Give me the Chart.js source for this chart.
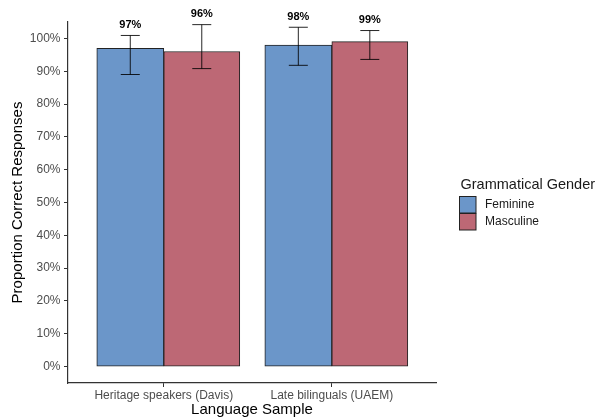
<!DOCTYPE html>
<html>
<head>
<meta charset="utf-8">
<script src="https://cdn.jsdelivr.net/npm/chart.js@4/dist/chart.umd.min.js"></script>
<style>
  html, body { margin: 0; padding: 0; background: #ffffff; }
  #wrap { width: 600px; height: 417px; }
</style>
</head>
<body>
<div id="wrap"><canvas id="c" width="600" height="417"></canvas></div>
<script>
// Language samples on the x axis
const categories = ['Heritage speakers (Davis)', 'Late bilinguals (UAEM)'];
// Mean proportion correct (%) per grammatical gender
const feminine = [97, 98];
const masculine = [96, 99];
// Error-bar bounds (%)
const feminineLow = [89.0, 91.8];
const feminineHigh = [100.9, 103.4];
const masculineLow = [90.8, 93.6];
const masculineHigh = [104.2, 102.4];
// Y tick values (%)
const yTicks = [0, 10, 20, 30, 40, 50, 60, 70, 80, 90, 100];

const FONT = "'Liberation Sans', Arial, sans-serif";
const FEM_COLOR = '#6b96c9';
const MASC_COLOR = '#bd6875';

const toPoints = vals => vals.map((v, i) => ({ x: i + 1, y: v }));

// Error bars with caps, plus bold value labels above each bar
const errorBars = {
  id: 'errorBars',
  afterDatasetsDraw(chart) {
    const ctx = chart.ctx;
    const y = chart.scales.y;
    chart.data.datasets.forEach((ds, di) => {
      const meta = chart.getDatasetMeta(di);
      meta.data.forEach((bar, i) => {
        const x = bar.x;
        const yLo = y.getPixelForValue(ds.errLow[i]);
        const yHi = y.getPixelForValue(ds.errHigh[i]);
        ctx.save();
        ctx.strokeStyle = 'rgba(0,0,0,0.85)';
        ctx.lineWidth = 1;
        ctx.beginPath();
        ctx.moveTo(x, yLo); ctx.lineTo(x, yHi);
        ctx.moveTo(x - 9.5, yLo); ctx.lineTo(x + 9.5, yLo);
        ctx.moveTo(x - 9.5, yHi); ctx.lineTo(x + 9.5, yHi);
        ctx.stroke();
        ctx.fillStyle = '#000000';
        ctx.font = 'bold 11px ' + FONT;
        ctx.textAlign = 'center';
        ctx.textBaseline = 'middle';
        ctx.fillText(ds.data[i].y + '%', x, yHi - 10.5);
        ctx.restore();
      });
    });
  }
};

// Legend block on the right
const sideLegend = {
  id: 'sideLegend',
  afterDraw(chart) {
    const ctx = chart.ctx;
    ctx.save();
    ctx.fillStyle = '#1a1a1a';
    ctx.font = '14.5px ' + FONT;
    ctx.textAlign = 'left';
    ctx.textBaseline = 'alphabetic';
    ctx.fillText('Grammatical Gender', 460.5, 188.5);
    chart.data.datasets.forEach((ds, i) => {
      const top = 196 + i * 17;
      ctx.fillStyle = ds.backgroundColor;
      ctx.fillRect(459.5, top + 0.5, 16.5, 16.5);
      ctx.strokeStyle = '#222222';
      ctx.lineWidth = 1;
      ctx.strokeRect(459.5, top + 0.5, 16.5, 16.5);
      ctx.fillStyle = '#1a1a1a';
      ctx.font = '12px ' + FONT;
      ctx.textBaseline = 'middle';
      ctx.fillText(ds.label, 485, top + 8.5);
    });
    ctx.restore();
  }
};

new Chart(document.getElementById('c'), {
  type: 'bar',
  data: {
    datasets: [
      {
        label: 'Feminine',
        data: toPoints(feminine),
        errLow: feminineLow,
        errHigh: feminineHigh,
        backgroundColor: FEM_COLOR,
        borderColor: '#222222',
        borderWidth: 1,
        borderSkipped: false,
        barThickness: 67
      },
      {
        label: 'Masculine',
        data: toPoints(masculine),
        errLow: masculineLow,
        errHigh: masculineHigh,
        backgroundColor: MASC_COLOR,
        borderColor: '#222222',
        borderWidth: 1,
        borderSkipped: false,
        barThickness: 76
      }
    ]
  },
  options: {
    responsive: false,
    animation: false,
    layout: { padding: { top: 22, right: 164, left: 0, bottom: 0 } },
    plugins: {
      legend: { display: false },
      tooltip: { enabled: false }
    },
    scales: {
      x: {
        type: 'linear',
        min: 0.43,
        max: 2.62,
        offset: false,
        afterBuildTicks: s => { s.ticks = categories.map((c, i) => ({ value: i + 1 })); },
        afterFit: s => { s.height = 34; },
        grid: { display: true, offset: false, drawOnChartArea: false, drawTicks: true, tickLength: 4, color: '#333333' },
        border: { display: true, color: '#333333', width: 1.2 },
        ticks: {
          padding: 1,
          color: '#4d4d4d',
          font: { family: FONT, size: 12 },
          maxRotation: 0,
          autoSkip: false,
          callback: v => categories[v - 1]
        },
        title: {
          display: true,
          text: 'Language Sample',
          color: '#000000',
          font: { family: FONT, size: 15 },
          padding: { top: 0, bottom: -1.5 }
        }
      },
      y: {
        min: -5,
        max: 105,
        afterBuildTicks: s => { s.ticks = yTicks.map(v => ({ value: v })); },
        afterFit: s => { s.width = 68; },
        grid: { display: true, drawOnChartArea: false, drawTicks: true, tickLength: 4, color: '#333333' },
        border: { display: true, color: '#333333', width: 1.2 },
        ticks: {
          padding: 3.5,
          color: '#4d4d4d',
          font: { family: FONT, size: 12 },
          callback: v => v + '%'
        },
        title: {
          display: true,
          text: 'Proportion Correct Responses',
          color: '#000000',
          font: { family: FONT, size: 15 },
          padding: { top: 8.5, bottom: 0 }
        }
      }
    }
  },
  plugins: [errorBars, sideLegend]
});
</script>
</body>
</html>
